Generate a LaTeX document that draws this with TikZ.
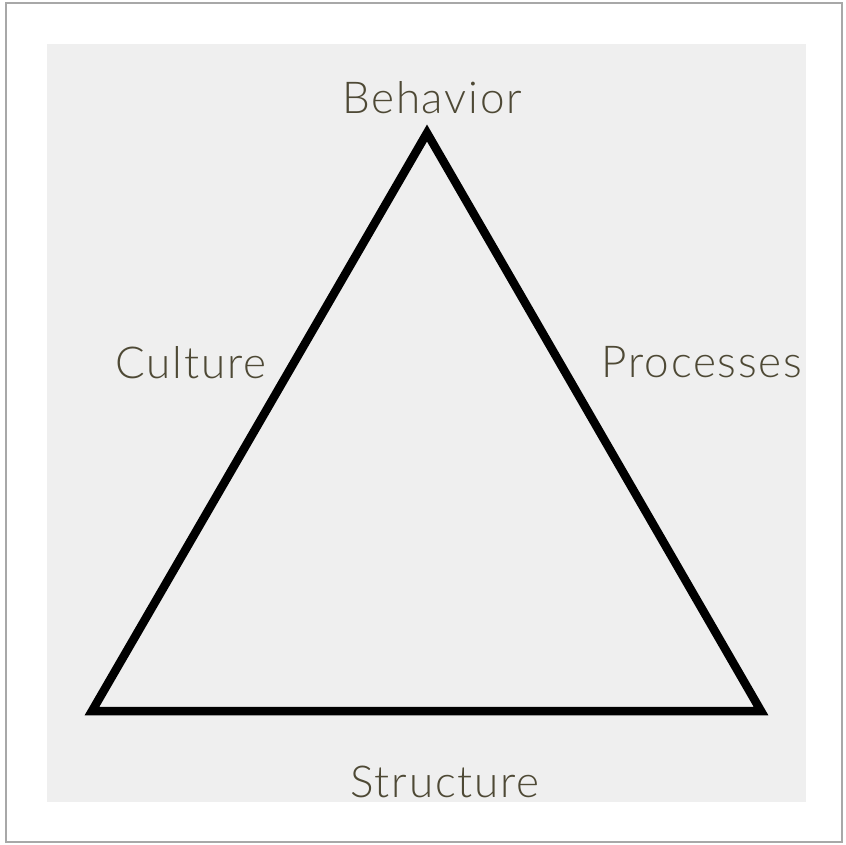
\documentclass[tikz,border=0pt]{standalone}
\usepackage{fontspec}
\setmainfont{Lato}[UprightFont={* Light}, LetterSpace=4]
\definecolor{schrift}{HTML}{4E4935}
\definecolor{grund}{HTML}{EFEFEF}
\definecolor{rand}{HTML}{A8A8A8}

\tikzset{
  beschriftung/.style={text=schrift, anchor=base, inner sep=0pt,
    font=\fontsize{44}{50}\selectfont},
  kante/.style={line width=8.5pt, line join=miter}
}

\begin{document}
\begin{tikzpicture}[x=1pt,y=-1pt]
  % Rahmen und Hintergrund
  \useasboundingbox (0,0) rectangle (846,845);
  \fill[white] (0,0) rectangle (846,845);
  \draw[rand, line width=1.5pt] (6,3) rectangle (842,842);
  \fill[grund] (47,44) rectangle (806,802);

  % Ecken des Dreiecks
  \coordinate (oben)   at (427,133);
  \coordinate (links)  at (92,711);
  \coordinate (rechts) at (761,711);

  % Dreieck
  \draw[kante] (oben) -- (links) -- (rechts) -- cycle;

  % Beschriftungen
  \node[beschriftung] (behavior)  at (432,114) {Behavior};
  \node[beschriftung] (culture)   at (191,378) {Culture};
  \node[beschriftung] (processes) at (702,377) {Processes};
  \node[beschriftung] (structure) at (445,797) {Structure};

\end{tikzpicture}
\end{document}
